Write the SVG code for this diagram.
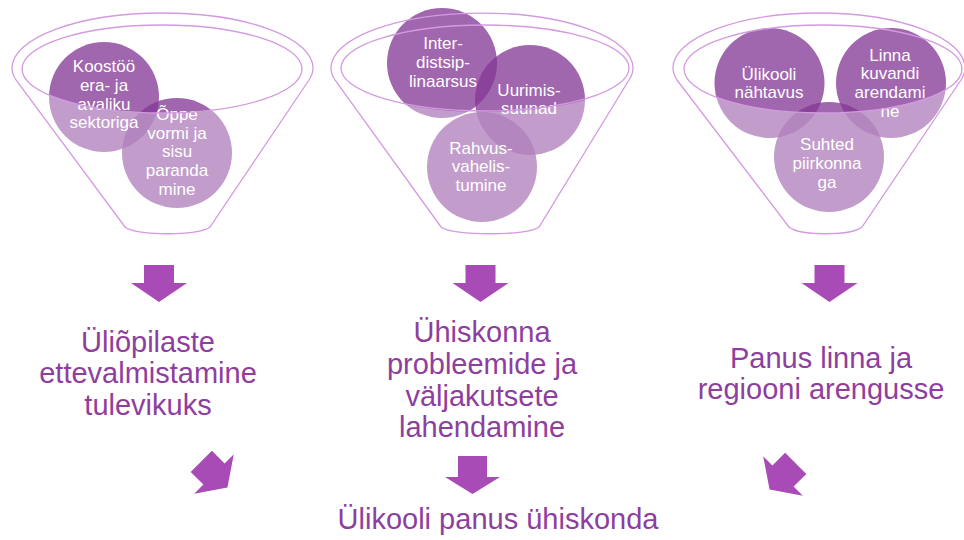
<svg xmlns="http://www.w3.org/2000/svg" width="964" height="540" viewBox="0 0 964 540">
<style>
.c{fill:#843895;fill-opacity:0.77}
.ct{font-family:"Liberation Sans",Arial,sans-serif;font-size:17px;fill:#fff;text-anchor:middle}
.ov{fill:#fff;fill-opacity:0.36}
.fs{fill:none;stroke:#d49ae0;stroke-width:1.3}
.big{font-family:"Liberation Sans",Arial,sans-serif;font-size:29px;fill:#8e3e9e;text-anchor:middle}
.ar{fill:#a94bb6}
</style>
<defs>
<path id="darr" d="M-15,-18 H15 V0 H28 L0,19 L-28,0 H-15 Z"/>
</defs>
<rect width="964" height="540" fill="#fff"/>

<g id="funnel1">
<circle class="c" cx="104" cy="97" r="55"/>
<circle class="c" cx="177" cy="153" r="55"/>
<text class="ct" x="104"><tspan x="104" y="72.3">Koostöö</tspan><tspan x="104" y="91">era- ja</tspan><tspan x="104" y="109.7">avaliku</tspan><tspan x="104" y="128.4">sektoriga</tspan></text>
<text class="ct" x="177"><tspan x="177" y="120">Õppe</tspan><tspan x="177" y="138.7">vormi ja</tspan><tspan x="177" y="157.4">sisu</tspan><tspan x="177" y="176">paranda</tspan><tspan x="177" y="194.7">mine</tspan></text>
<path class="ov" d="M22,69 A140,44 0 0 0 302,69 L313,68 Q313,74 309,80 L210,227 C200,236 135,236 125,227 L16,80 Q12,74 12,68 Z"/>
<path class="fs" d="M12,68 A150.5,55 0 0 1 313,68 Q313,74 309,80 L210,227 C200,236 135,236 125,227 L16,80 Q12,74 12,68 Z"/>
<ellipse class="fs" cx="162" cy="69" rx="140" ry="44"/>
</g>

<g id="funnel2">
<circle class="c" cx="442" cy="63" r="55"/>
<circle class="c" cx="530" cy="100" r="55"/>
<circle class="c" cx="482" cy="167" r="55"/>
<text class="ct"><tspan x="443" y="48.5">Inter-</tspan><tspan x="443" y="67.5">distsip-</tspan><tspan x="443" y="86.5">linaarsus</tspan></text>
<text class="ct"><tspan x="529" y="95.5">Uurimis-</tspan><tspan x="529" y="114">suunad</tspan></text>
<text class="ct"><tspan x="481" y="153.5">Rahvus-</tspan><tspan x="481" y="172.2">vahelis-</tspan><tspan x="481" y="191">tumine</tspan></text>
<path class="ov" d="M341,69 A144,43 0 0 0 629,69 L633,68 Q633,74 629,80 L539,227 C529,236 451,236 441,227 L335,80 Q331,74 331,68 Z"/>
<path class="fs" d="M331,68 A151,55 0 0 1 633,68 Q633,74 629,80 L539,227 C529,236 451,236 441,227 L335,80 Q331,74 331,68 Z"/>
<ellipse class="fs" cx="485" cy="68" rx="144" ry="43"/>
</g>

<g id="funnel3">
<circle class="c" cx="769.5" cy="83" r="55"/>
<circle class="c" cx="891" cy="83" r="55"/>
<circle class="c" cx="829" cy="157" r="55"/>
<text class="ct"><tspan x="769" y="79.5">Ülikooli</tspan><tspan x="769" y="98">nähtavus</tspan></text>
<text class="ct"><tspan x="890" y="60.5">Linna</tspan><tspan x="890" y="79.2">kuvandi</tspan><tspan x="890" y="97.9">arendami</tspan><tspan x="890" y="116.6">ne</tspan></text>
<text class="ct"><tspan x="827" y="149.5">Suhted</tspan><tspan x="827" y="168.5">piirkonna</tspan><tspan x="827" y="187.5">ga</tspan></text>
<path class="ov" d="M684,69 A139,44 0 0 0 962,69 L965,68 Q965,74 961,80 L862,227 C852,236 799,236 789,227 L677,80 Q673,74 673,68 Z"/>
<path class="fs" d="M673,68 A146,55 0 0 1 965,68 Q965,74 961,80 L862,227 C852,236 799,236 789,227 L677,80 Q673,74 673,68 Z"/>
<ellipse class="fs" cx="823" cy="69" rx="139" ry="44"/>
</g>

<g id="result1">
<text class="big"><tspan x="148" y="351.7">Üliõpilaste</tspan><tspan x="148" y="383.4">ettevalmistamine</tspan><tspan x="148" y="415">tulevikuks</tspan></text>
</g>
<g id="result2">
<text class="big"><tspan x="482" y="341.7">Ühiskonna</tspan><tspan x="482" y="373.6">probleemide ja</tspan><tspan x="482" y="405.5">väljakutsete</tspan><tspan x="482" y="437">lahendamine</tspan></text>
</g>
<g id="result3">
<text class="big"><tspan x="821" y="368.3">Panus linna ja</tspan><tspan x="821" y="399">regiooni arengusse</tspan></text>
</g>
<g id="final">
<text class="big" x="498" y="529.3">Ülikooli panus ühiskonda</text>
</g>

<g id="connectors">
<use href="#darr" class="ar" transform="translate(159,283)"/>
<use href="#darr" class="ar" transform="translate(480.5,283)"/>
<use href="#darr" class="ar" transform="translate(829.5,283)"/>
<path class="ar" d="M458,456 H487 V477 H500 L472.5,494 L445,477 H458 Z"/>
<use href="#darr" class="ar" transform="translate(214,474) rotate(-45)"/>
<use href="#darr" class="ar" transform="translate(783,476) rotate(45)"/>
</g>
</svg>
